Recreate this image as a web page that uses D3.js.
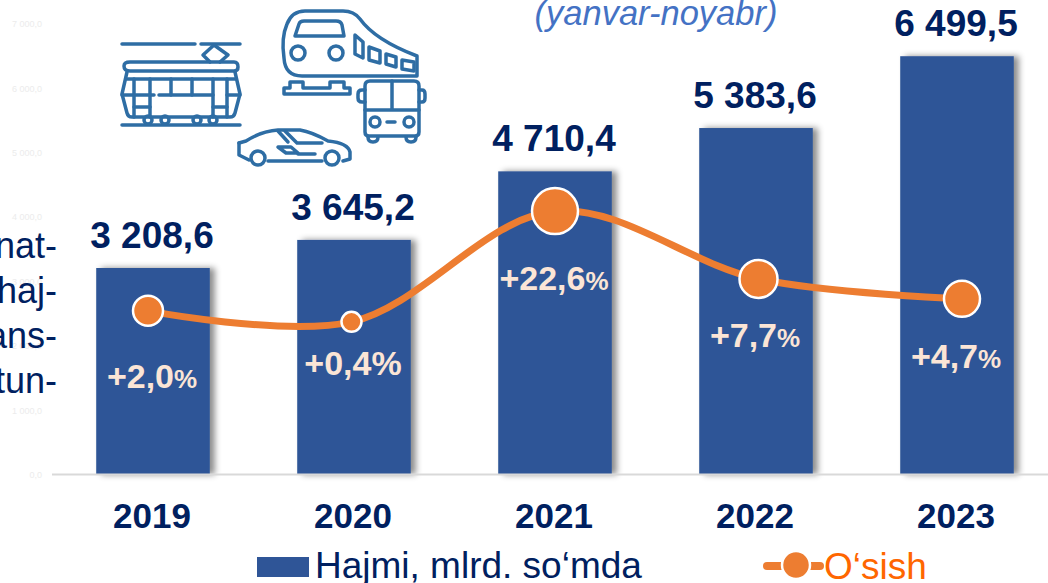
<!DOCTYPE html>
<meta charset="utf-8">
<style>
  html, body { margin: 0; padding: 0; background: #fff; overflow: hidden; }
  svg { display: block; font-family: "Liberation Sans", Arial, sans-serif; }
  .icon { fill: none; stroke: #2e6da4; stroke-width: 3.5; stroke-linejoin: round; stroke-linecap: round; }
</style>
<svg width="1048" height="583"></svg>
<script src="https://cdn.jsdelivr.net/npm/d3@7"></script>
<script>
  var years = ["2019", "2020", "2021", "2022", "2023"];
  var volume = [3208.6, 3645.2, 4710.4, 5383.6, 6499.5];
  var volumeLabels = ["3 208,6", "3 645,2", "4 710,4", "5 383,6", "6 499,5"];
  var growth = [2.0, 0.4, 22.6, 7.7, 4.7];
  var growthNumbers = ["+2,0", "+0,4", "+22,6", "+7,7", "+4,7"];
  // where the line sits, read against the hidden left axis
  var growthLevel = [2543, 2372, 4093, 3039, 2729];
  var yTicks = [0, 1000, 2000, 3000, 4000, 5000, 6000, 7000];
  var sideText = ["nat-", "haj-", "ans-", "tun-"];

  var svg = d3.select("svg");

  var x = d3.scaleBand().domain(years).range([52.5, 1057.5]).paddingInner(0.435).paddingOuter(0.2175);
  var y = d3.scaleLinear().domain([0, 7000]).range([474.5, 24]);
  var xLine = d3.scalePoint().domain(years).range([148, 962]);
  var radius = d3.scaleLinear().domain([0.4, 2, 4.7, 7.7, 22.6]).range([10, 15, 18, 19, 23]);
  // percent labels are placed by hand in the original
  var labelY = d3.scaleOrdinal().domain(years).range([388, 375, 290, 347, 368]);

  var defs = svg.append("defs");
  var shadow = defs.append("filter").attr("id", "shadow")
      .attr("x", "-20%").attr("y", "-10%").attr("width", "140%").attr("height", "120%");
  shadow.append("feDropShadow").attr("dx", 5).attr("dy", 0).attr("stdDeviation", 3)
      .attr("flood-color", "#000").attr("flood-opacity", 0.45);

  // nearly invisible axis labels
  var yAxis = svg.append("g").attr("transform", "translate(42,0)")
      .call(d3.axisLeft(y).tickValues(yTicks).tickSize(0).tickPadding(0)
        .tickFormat(function(d) { return d3.format(",")(d).replace(",", " ") + ",0"; }));
  yAxis.select(".domain").remove();
  yAxis.selectAll("text").attr("fill", "#ececec").style("font-size", "9px")
      .style("font-family", "'Liberation Sans', Arial, sans-serif");

  // side text cut off by the left edge
  svg.append("g").selectAll("text").data(sideText).enter().append("text")
      .attr("x", 57)
      .attr("y", function(d, i) { return 258 + i * 45; })
      .attr("text-anchor", "end")
      .attr("fill", "#002060")
      .style("font-size", "36px")
      .text(function(d) { return d; });

  svg.append("g").selectAll("rect").data(years).enter().append("rect")
      .attr("x", function(d) { return x(d); })
      .attr("y", function(d, i) { return y(volume[i]); })
      .attr("width", x.bandwidth())
      .attr("height", function(d, i) { return y(0) - y(volume[i]); })
      .attr("fill", "#2f5597")
      .attr("filter", "url(#shadow)");

  svg.append("line").attr("x1", 52).attr("x2", 1048).attr("y1", y(0)).attr("y2", y(0))
      .attr("stroke", "#d9d9d9").attr("stroke-width", 2);

  var line = d3.line()
      .x(function(d) { return xLine(d); })
      .y(function(d, i) { return y(growthLevel[i]); })
      .curve(d3.curveCatmullRom.alpha(0.5));

  svg.append("path").datum(years)
      .attr("d", line)
      .attr("fill", "none")
      .attr("stroke", "#ed7d31")
      .attr("stroke-width", 7)
      .attr("stroke-linecap", "round");

  svg.append("g").selectAll("circle").data(years).enter().append("circle")
      .attr("cx", function(d) { return xLine(d); })
      .attr("cy", function(d, i) { return y(growthLevel[i]); })
      .attr("r", function(d, i) { return radius(growth[i]); })
      .attr("fill", "#ed7d31")
      .attr("stroke", "#fff")
      .attr("stroke-width", 2.5);

  svg.append("g").selectAll("text").data(years).enter().append("text")
      .attr("x", function(d) { return x(d) + x.bandwidth() / 2 - 1; })
      .attr("y", function(d, i) { return y(volume[i]) - 20; })
      .attr("text-anchor", "middle")
      .attr("fill", "#002060")
      .style("font-size", "37px")
      .style("font-weight", "bold")
      .text(function(d, i) { return volumeLabels[i]; });

  svg.append("g").selectAll("text").data(years).enter().append("text")
      .attr("x", function(d) { return x(d) + x.bandwidth() / 2 - 1; })
      .attr("y", 528)
      .attr("text-anchor", "middle")
      .attr("fill", "#002060")
      .style("font-size", "35px")
      .style("font-weight", "bold")
      .text(function(d) { return d; });

  var pct = svg.append("g").selectAll("text").data(years).enter().append("text")
      .attr("x", function(d) { return x(d) + x.bandwidth() / 2 - 1; })
      .attr("y", function(d) { return labelY(d); })
      .attr("text-anchor", "middle")
      .attr("fill", "#fbe5d6")
      .style("font-size", "34px")
      .style("font-weight", "bold");
  pct.append("tspan").text(function(d, i) { return growthNumbers[i]; });
  pct.append("tspan")
      .style("font-size", function(d, i) { return i == 1 ? "34px" : "26px"; })
      .text("%");

  svg.append("text").attr("x", 656).attr("y", 25)
      .attr("text-anchor", "middle")
      .attr("fill", "#4472c4")
      .style("font-size", "34.5px")
      .style("font-style", "italic")
      .text("(yanvar-noyabr)");

  // legend
  svg.append("rect").attr("x", 257).attr("y", 557).attr("width", 52).attr("height", 20).attr("fill", "#2f5597");
  svg.append("text").attr("x", 315).attr("y", 578)
      .attr("fill", "#002060").style("font-size", "37px").text("Hajmi, mlrd. so‘mda");
  svg.append("line").attr("x1", 767).attr("x2", 820).attr("y1", 566).attr("y2", 566)
      .attr("stroke", "#ed7d31").attr("stroke-width", 8).attr("stroke-linecap", "round");
  svg.append("circle").attr("cx", 796).attr("cy", 565).attr("r", 14)
      .attr("fill", "#ed7d31").attr("stroke", "#fff").attr("stroke-width", 2.5);
  svg.append("text").attr("x", 824).attr("y", 579)
      .attr("fill", "#ff6600").style("font-size", "37px").text("O‘sish");

  // transport icons, drawn by hand
  var icons = svg.append("g").attr("class", "icon");
  var iconPaths = [
    // tram
    "M122,44H195M201,44H240",
    "M214,45L203,55L210,62M214,45L228,55L220,62",
    "M130,62H234Q238,62 238,67Q238,71 234,71H130Q124,71 124,66Q124,62 130,62Z",
    "M127,72L122,94L127,113Q128,117 132,117H230Q234,117 235,113L240,94L235,72",
    "M127,79H235",
    "M134,79V117M150,79V117M171,79V95M192,79V95M213,79V117M227,79V117",
    "M122,95H154M159,95H213M227,95H240",
    "M134,107H150M213,107H227",
    "M122,125H240",
    // train
    "M417,76H302Q285,76 284,58Q281,38 287,24Q292,11 305,11H343Q354,11 360,19Q375,40 417,56Z",
    "M295,36L299,24Q300,21 304,21H336Q341,21 342,25L344,36Z",
    "M355,35L363,42V58L355,54Z",
    "M369,47L380,51V63L369,60Z",
    "M386,54L396,57V67L386,64Z",
    "M402,60L414,62V71L402,69Z",
    "M284,94V88H290V82H303V88H330V82H344V88H350V94Z",
    // bus
    "M370,81H414Q419,81 419,86V132Q419,136 415,136H369Q365,136 365,132V86Q365,81 370,81Z",
    "M392,81V110M365,110H419M387,122H395",
    "M365,90H362Q358,90 358,94V98Q358,102 362,102H365",
    "M419,90H422Q425,90 425,94V98Q425,102 422,102H419",
    "M368,137Q368,142 373,142Q378,142 378,137M406,137Q406,142 411,142Q416,142 416,137",
    // car
    "M239,143L246,141Q262,131 278,130H300Q312,132 328,141Q348,143 350,152V159L343,161",
    "M239,143V155L249,160",
    "M268,161H322",
    "M278,131L288,142M285,131L297,143H322",
    "M278,147H291L298,153H286Z",
    "M298,154H315"
  ];
  icons.selectAll("path").data(iconPaths).enter().append("path")
      .attr("d", function(d) { return d; });
  // wheels and lamps [cx, cy, r]
  var iconCircles = [[148, 120, 4], [165, 120, 4], [197, 120, 4], [213, 120, 4], [298, 53, 7], [336, 53, 7],
    [375, 122, 5], [409, 122, 5], [258, 158, 7], [332, 158, 7]];
  icons.selectAll("circle").data(iconCircles).enter().append("circle")
      .attr("cx", function(d) { return d[0]; })
      .attr("cy", function(d) { return d[1]; })
      .attr("r", function(d) { return d[2]; });
</script>
